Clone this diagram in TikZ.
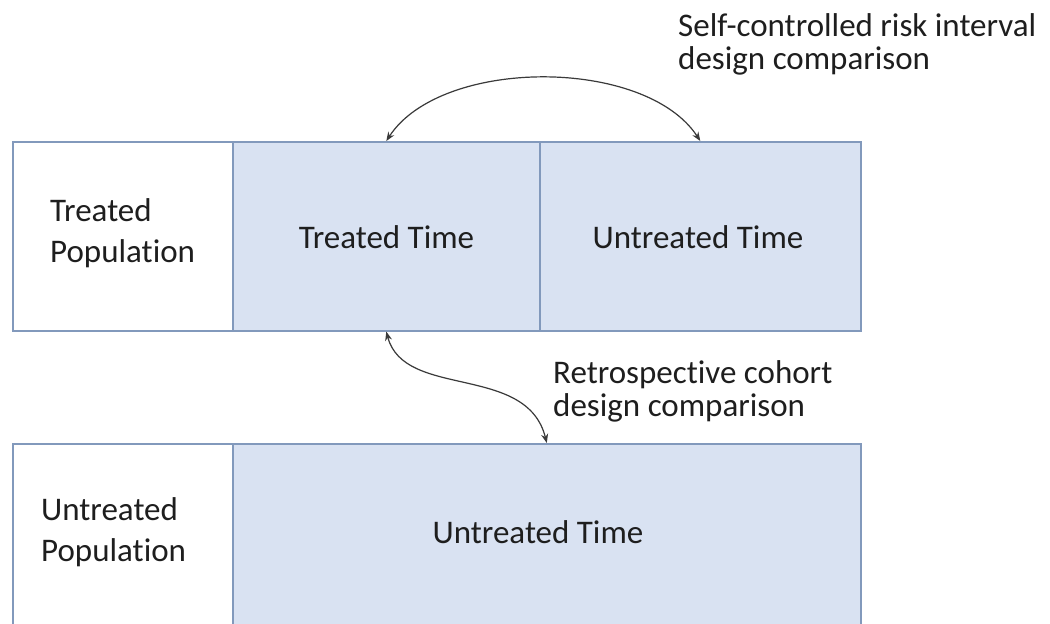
\documentclass[tikz,border=0pt]{standalone}
\usepackage{fontspec}
\setmainfont{Carlito}[Ligatures={NoCommon,NoContextual}]
\usetikzlibrary{arrows.meta}
\definecolor{boxfill}{HTML}{D9E2F2}
\definecolor{boxline}{HTML}{8299BC}
\definecolor{arrowc}{HTML}{3A3A3A}
\definecolor{txt}{HTML}{1E1E1E}
\begin{document}
\begin{tikzpicture}[x=1pt,y=-1pt,
  cell/.style={draw=boxline, line width=1.6pt, inner sep=0pt, anchor=north west},
  timecell/.style={cell, fill=boxfill},
  lbl/.style={font=\fontsize{33}{40}\selectfont, text=txt, inner sep=0pt},
  note/.style={font=\fontsize{33}{33}\selectfont, text=txt, inner sep=0pt, align=left, anchor=base west},
  poplbl/.style={font=\fontsize{33}{41}\selectfont, text=txt, inner sep=0pt, align=left, anchor=base west},
  conn/.style={draw=arrowc, line width=1.2pt, {Stealth[length=9pt,width=7pt]}-{Stealth[length=9pt,width=7pt]}}]
\useasboundingbox (0,0) rectangle (1050,624);
\clip (0,0) rectangle (1050,624);
\fill[white] (0,0) rectangle (1050,624);
% top row
\node[cell, minimum width=220pt, minimum height=189pt] (tp) at (12,141) {};
\node[timecell, minimum width=307pt, minimum height=189pt] (tt) at (232,141) {};
\node[timecell, minimum width=321pt, minimum height=189pt] (ut) at (539,141) {};
% bottom row
\node[cell, minimum width=220pt, minimum height=220pt] (up) at (12,443) {};
\node[timecell, minimum width=628pt, minimum height=220pt] (ubt) at (232,443) {};
% texts (base = baseline of the last line)
\node[poplbl] (tptxt) at (50,262.7) {Treated\\Population};
\node[poplbl] (uptxt) at (41,561.7) {Untreated\\Population};
\node[lbl, anchor=base] (tttxt) at (386.5,248) {Treated Time};
\node[lbl, anchor=base] (uttxt) at (698,248) {Untreated Time};
\node[lbl, anchor=base] (ubttxt) at (538,543) {Untreated Time};
\node[note] (scri) at (678,69) {Self-controlled risk interval\\design comparison};
\node[note] (rcd) at (553,416) {Retrospective cohort\\design comparison};
% connectors
\draw[conn] (tt.north) .. controls +(55,-84) and +(-55,-84) .. (ut.north);
\draw[conn] (tt.south) .. controls +(18,68) and +(-20,-80) .. (ubt.north);
\end{tikzpicture}
\end{document}
